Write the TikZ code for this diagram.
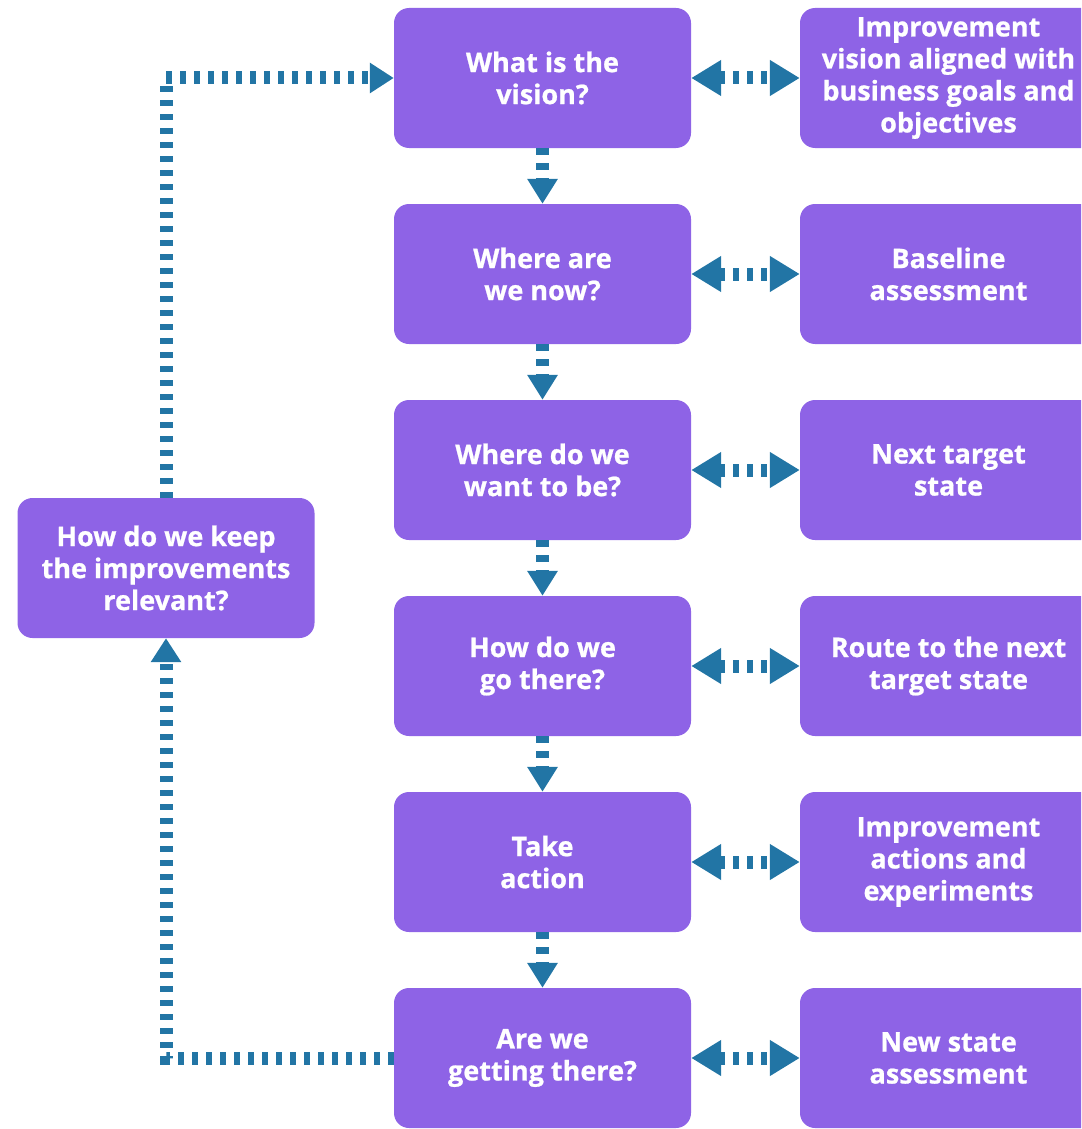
\documentclass[tikz,border=0pt]{standalone}
\usepackage{fontspec}
\setmainfont{Open Sans}[BoldFeatures={FakeBold=0.8}]
\usetikzlibrary{arrows.meta}
\definecolor{boxpurple}{HTML}{8E63E6}
\definecolor{flowblue}{HTML}{2275A5}
\begin{document}
\begin{tikzpicture}[x=1pt,y=-1pt,
  box/.style={fill=boxpurple, rounded corners=15pt, minimum width=297pt,
    minimum height=140pt, inner sep=0pt, align=center, text=white,
    font=\fontsize{27}{32}\selectfont\bfseries},
  flow/.style={draw=flowblue, line width=13pt, dash pattern=on 6pt off 8pt},
  stepflow/.style={flow, dash pattern=on 7pt off 8pt,
    -{Triangle[length=25pt,width=29pt]}},
  pairflow/.style={flow,
    {Triangle[length=30pt,width=34pt]}-{Triangle[length=30pt,width=34pt]}},
  loopflow/.style={flow, line join=miter, -{Triangle[length=24pt,width=29pt]}}
]
\path[use as bounding box, clip] (0,0) rectangle (1081,1129);

% question column
\node[box] (q1) at (542.5,78)   {What is the\\vision?};
\node[box] (q2) at (542.5,274)  {Where are\\we now?};
\node[box] (q3) at (542.5,470)  {Where do we\\want to be?};
\node[box] (q4) at (542.5,666)  {How do we\\go there?};
\node[box] (q5) at (542.5,862)  {Take\\action};
\node[box] (q6) at (542.5,1058) {Are we\\getting there?};

% outcome column
\node[box] (a1) at (948.5,78)   {Improvement\\vision aligned with\\business goals and\\objectives};
\node[box] (a2) at (948.5,274)  {Baseline\\assessment};
\node[box] (a3) at (948.5,470)  {Next target\\state};
\node[box] (a4) at (948.5,666)  {Route to the next\\target state};
\node[box] (a5) at (948.5,862)  {Improvement\\actions and\\experiments};
\node[box] (a6) at (948.5,1058) {New state\\assessment};

% feedback question
\node[box] (keep) at (166,568) {How do we keep\\the improvements\\relevant?};

% downward steps
\foreach \i/\j in {q1/q2,q2/q3,q3/q4,q4/q5,q5/q6}
  \draw[stepflow] (\i.south) -- (\j.north);

% question <-> outcome
\foreach \i in {1,...,6}
  \draw[pairflow] (q\i.east) -- (a\i.west);

% feedback loop
\draw[loopflow] (q6.west) -| (keep.south);
\draw[loopflow] (keep.north) |- (q1.west);
\end{tikzpicture}
\end{document}
